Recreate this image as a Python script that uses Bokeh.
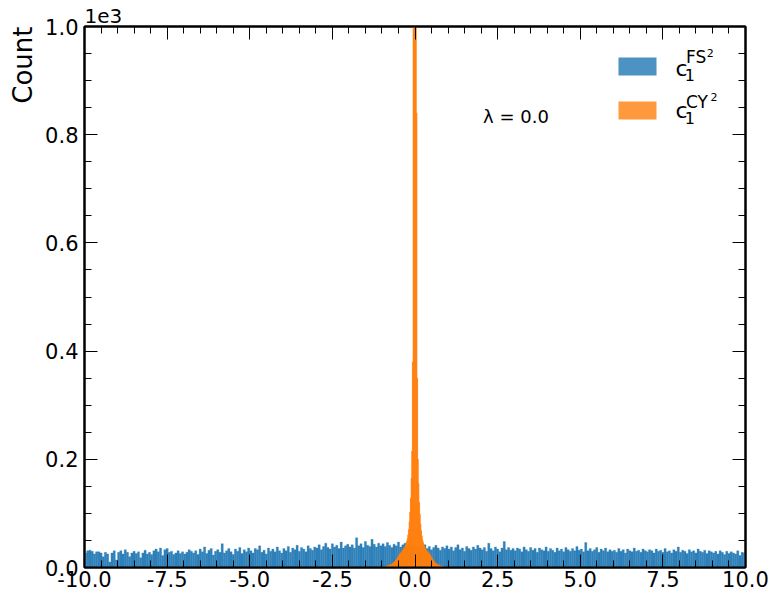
import numpy as np
from bokeh.plotting import figure
from bokeh.models import (Range1d, SingleIntervalTicker, CustomJSTickFormatter, LinearAxis,
                          Label, BoxAnnotation, CustomLabelingPolicy, Title)
from bokeh.embed import file_html
from bokeh.resources import INLINE

# ---------------- data ----------------
fs_range = (-10.0, 10.0)
fs_counts = [
    27, 31, 32, 30, 25, 29, 29, 27, 20, 28, 25, 10, 27, 31, 14,
    28, 31, 25, 33, 28, 20, 27, 30, 26, 29, 18, 27, 32, 25, 28,
    24, 31, 34, 29, 36, 22, 33, 35, 28, 30, 24, 27, 31, 26, 29,
    25, 28, 33, 30, 27, 31, 24, 34, 29, 38, 26, 32, 35, 23, 30,
    33, 28, 44, 27, 31, 35, 29, 24, 34, 30, 37, 26, 33, 29, 36,
    31, 27, 35, 33, 40, 28, 32, 25, 36, 30, 34, 29, 38, 31, 27,
    35, 31, 39, 28, 36, 33, 41, 30, 37, 34, 29, 40, 35, 32, 38,
    36, 42, 33, 39, 45, 37, 34, 44, 38, 41, 35, 47, 36, 40, 43,
    38, 42, 36, 55, 40, 44, 37, 48, 41, 39, 52, 43, 38, 45, 40,
    44, 39, 46, 41, 37, 43, 40, 47, 38, 42, 45, 36, 41, 39, 43,
    37, 40, 34, 38, 42, 35, 39, 33, 37, 41, 36, 32, 38, 35, 40,
    34, 38, 31, 37, 42, 33, 36, 30, 39, 35, 32, 38, 34, 41, 36,
    33, 37, 30, 45, 35, 31, 38, 34, 29, 36, 48, 33, 37, 32, 35,
    31, 36, 34, 29, 38, 33, 30, 37, 32, 35, 28, 36, 33, 31, 38,
    30, 35, 32, 28, 36, 31, 34, 29, 37, 33, 30, 35, 31, 39, 32,
    34, 29, 46, 31, 35, 30, 33, 37, 28, 34, 31, 36, 29, 33, 30,
    32, 28, 35, 30, 33, 27, 34, 31, 29, 36, 30, 32, 28, 34, 31,
    29, 33, 31, 27, 34, 30, 32, 28, 35, 29, 31, 27, 33, 30, 38,
    28, 32, 30, 26, 33, 29, 31, 27, 34, 30, 28, 32, 26, 31, 29,
    27, 30, 25, 31, 28, 24, 30, 26, 29, 27, 25, 31, 22, 28, 27,
]

cy_range = (-1.0, 1.0)
cy_counts = [
    0, 1, 1, 1, 2, 1, 2, 2, 3, 3,
    4, 4, 5, 5, 6, 7, 8, 9, 10, 11,
    13, 14, 16, 18, 20, 22, 24, 26, 27, 29,
    30, 32, 34, 36, 38, 41, 44, 48, 53, 60,
    70, 84, 102, 128, 165, 215, 380, 1010, 1150, 1250,
    1200, 1050, 840, 350, 200, 155, 120, 98, 80, 68,
    58, 51, 46, 42, 39, 36, 34, 32, 30, 29,
    27, 26, 24, 22, 20, 18, 16, 14, 12, 10,
    9, 8, 7, 6, 5, 5, 4, 4, 3, 3,
    2, 2, 2, 1, 1, 1, 1, 0, 1, 0,
]

x_tick_step = 2.5
y_tick_step = 200
y_scale = 1000
y_label = "Count"
offset_text = "1e3"
lambda_text = "λ = 0.0"

FS_COLOR = "#1f77b4"
CY_COLOR = "#ff7f0e"
FONT = "DejaVu Sans"

fs_edges = np.linspace(fs_range[0], fs_range[1], len(fs_counts) + 1)
cy_edges = np.linspace(cy_range[0], cy_range[1], len(cy_counts) + 1)

# ---------------- figure ----------------
p = figure(width=773, height=598, x_range=Range1d(-10, 10), y_range=Range1d(0, 1000),
           output_backend="svg", toolbar_location=None,
           min_border_left=84, min_border_right=28, min_border_top=26, min_border_bottom=31)
p.xgrid.visible = False
p.ygrid.visible = False
p.outline_line_color = "black"
p.outline_line_width = 2
p.background_fill_color = "white"
p.border_fill_color = "white"

p.quad(left=fs_edges[:-1], right=fs_edges[1:], top=fs_counts, bottom=0,
       fill_color=FS_COLOR, fill_alpha=0.92, line_color=FS_COLOR, line_alpha=0.5, line_width=0.5)
p.quad(left=cy_edges[:-1], right=cy_edges[1:], top=cy_counts, bottom=0,
       fill_color=CY_COLOR, fill_alpha=1.0, line_color=CY_COLOR, line_width=0.6)

xfmt = CustomJSTickFormatter(code="return tick.toFixed(1);")
yfmt = CustomJSTickFormatter(code="return (tick/%d).toFixed(1);" % y_scale)
hide_all = CustomLabelingPolicy(code="for (let i = 0; i < indices.size; i++) { indices.unset(i) } return indices")


def style(ax, labels=True):
    ax.axis_line_width = 2
    ax.axis_line_color = "black"
    ax.major_tick_in = 13
    ax.major_tick_out = 0
    ax.minor_tick_in = 7
    ax.minor_tick_out = 0
    ax.major_tick_line_width = 1
    ax.minor_tick_line_width = 1
    ax.major_tick_line_color = "black"
    ax.minor_tick_line_color = "black"
    ax.major_label_text_font = FONT
    ax.major_label_text_color = "black"
    if labels:
        ax.major_label_text_font_size = "21px"
        ax.major_label_standoff = 3
    else:
        ax.major_label_text_font_size = "1px"
        ax.major_label_standoff = 0
        ax.major_label_policy = hide_all


p.xaxis.ticker = SingleIntervalTicker(interval=x_tick_step, num_minor_ticks=5)
p.xaxis.formatter = xfmt
p.yaxis.ticker = SingleIntervalTicker(interval=y_tick_step, num_minor_ticks=4)
p.yaxis.formatter = yfmt
style(p.xaxis[0])
style(p.yaxis[0])
p.yaxis.major_label_standoff = 6

top_ax = LinearAxis(ticker=SingleIntervalTicker(interval=x_tick_step, num_minor_ticks=5))
right_ax = LinearAxis(ticker=SingleIntervalTicker(interval=y_tick_step, num_minor_ticks=4))
style(top_ax, labels=False)
style(right_ax, labels=False)
p.add_layout(top_ax, "above")
p.add_layout(right_ax, "right")

# y label "Count", aligned with the top end of the y axis (matplotlib style)
p.add_layout(Title(text=y_label, align="right", text_font=FONT, text_font_size="26px",
                   text_font_style="normal", text_color="black", standoff=10, offset=0), "left")

# offset text "1e3" as a left aligned title
p.title.text = offset_text
p.title.align = "left"
p.title.text_font = FONT
p.title.text_font_size = "20px"
p.title.text_font_style = "normal"
p.title.text_color = "black"
p.title.standoff = 0
p.title.offset = 0

# lambda annotation
p.add_layout(Label(x=2.06, y=833, text=lambda_text, text_align="left", text_baseline="middle",
                   text_font=FONT, text_font_size="18px", text_color="black"))

# legend (patches + rich text c_1^{FS^2}, c_1^{CY^2})
leg_left, leg_right = 6.157, 7.307
p.add_layout(BoxAnnotation(left=leg_left, right=leg_right, bottom=909.4, top=942.7,
                           fill_color=FS_COLOR, fill_alpha=0.8, line_color=None))
p.add_layout(BoxAnnotation(left=leg_left, right=leg_right, bottom=828.1, top=861.4,
                           fill_color=CY_COLOR, fill_alpha=0.8, line_color=None))


def txt(x, y, text, size):
    p.add_layout(Label(x=x, y=y, text=text, text_align="left", text_baseline="middle",
                       text_font=FONT, text_font_size=size, text_color="black"))


txt(7.88, 923, "c", "22px")
txt(8.16, 911, "1", "16px")
txt(8.20, 943, "FS", "17px")
txt(8.83, 951, "2", "11px")
txt(7.88, 844, "c", "22px")
txt(8.16, 830, "1", "16px")
txt(8.20, 860, "CY", "17px")
txt(8.94, 870, "2", "11px")

open("out.html", "w").write(file_html(p, INLINE))
